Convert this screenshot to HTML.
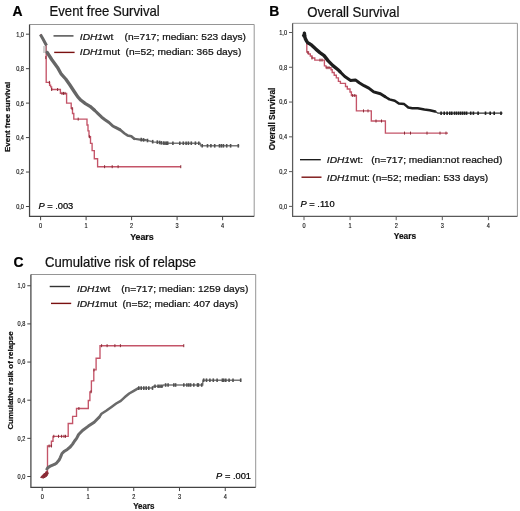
<!DOCTYPE html><html><head><meta charset="utf-8"><style>html,body{margin:0;padding:0;background:#fff;}svg{display:block;will-change:transform;}</style></head><body>
<svg width="520" height="511" viewBox="0 0 520 511">
<rect width="520" height="511" fill="#fff"/>
<text transform="translate(12.60,15.60)" font-size="13.9" font-weight="bold" fill="#000" stroke="#000" stroke-width="0.22" font-family="Liberation Sans, sans-serif">A</text>
<text transform="translate(49.50,15.70) scale(0.953,1)" font-size="13.8" fill="#111" stroke="#111" stroke-width="0.22" font-family="Liberation Sans, sans-serif">Event free Survival</text>
<polyline points="29.55,24.5 254.2,24.5 254.2,216.4" fill="none" stroke="#959595" stroke-width="1"/><polyline points="29.55,24.5 29.55,216.4 254.2,216.4" fill="none" stroke="#444" stroke-width="1.25"/><line x1="25.95" y1="34.19999999999999" x2="29.55" y2="34.19999999999999" stroke="#444" stroke-width="1"/><text transform="translate(23.95,36.60) scale(0.85,1)" text-anchor="end" font-size="6.6" fill="#111" stroke="#111" stroke-width="0.15" font-family="Liberation Sans, sans-serif">1,0</text><line x1="25.95" y1="68.66" x2="29.55" y2="68.66" stroke="#444" stroke-width="1"/><text transform="translate(23.95,71.06) scale(0.85,1)" text-anchor="end" font-size="6.6" fill="#111" stroke="#111" stroke-width="0.15" font-family="Liberation Sans, sans-serif">0,8</text><line x1="25.95" y1="103.11999999999999" x2="29.55" y2="103.11999999999999" stroke="#444" stroke-width="1"/><text transform="translate(23.95,105.52) scale(0.85,1)" text-anchor="end" font-size="6.6" fill="#111" stroke="#111" stroke-width="0.15" font-family="Liberation Sans, sans-serif">0,6</text><line x1="25.95" y1="137.57999999999998" x2="29.55" y2="137.57999999999998" stroke="#444" stroke-width="1"/><text transform="translate(23.95,139.98) scale(0.85,1)" text-anchor="end" font-size="6.6" fill="#111" stroke="#111" stroke-width="0.15" font-family="Liberation Sans, sans-serif">0,4</text><line x1="25.95" y1="172.04" x2="29.55" y2="172.04" stroke="#444" stroke-width="1"/><text transform="translate(23.95,174.44) scale(0.85,1)" text-anchor="end" font-size="6.6" fill="#111" stroke="#111" stroke-width="0.15" font-family="Liberation Sans, sans-serif">0,2</text><line x1="25.95" y1="206.5" x2="29.55" y2="206.5" stroke="#444" stroke-width="1"/><text transform="translate(23.95,208.90) scale(0.85,1)" text-anchor="end" font-size="6.6" fill="#111" stroke="#111" stroke-width="0.15" font-family="Liberation Sans, sans-serif">0,0</text><line x1="40.6" y1="216.4" x2="40.6" y2="220.20000000000002" stroke="#444" stroke-width="1"/><text transform="translate(40.60,227.90) scale(0.85,1)" text-anchor="middle" font-size="6.6" fill="#111" stroke="#111" stroke-width="0.15" font-family="Liberation Sans, sans-serif">0</text><line x1="86.1" y1="216.4" x2="86.1" y2="220.20000000000002" stroke="#444" stroke-width="1"/><text transform="translate(86.10,227.90) scale(0.85,1)" text-anchor="middle" font-size="6.6" fill="#111" stroke="#111" stroke-width="0.15" font-family="Liberation Sans, sans-serif">1</text><line x1="131.6" y1="216.4" x2="131.6" y2="220.20000000000002" stroke="#444" stroke-width="1"/><text transform="translate(131.60,227.90) scale(0.85,1)" text-anchor="middle" font-size="6.6" fill="#111" stroke="#111" stroke-width="0.15" font-family="Liberation Sans, sans-serif">2</text><line x1="177.1" y1="216.4" x2="177.1" y2="220.20000000000002" stroke="#444" stroke-width="1"/><text transform="translate(177.10,227.90) scale(0.85,1)" text-anchor="middle" font-size="6.6" fill="#111" stroke="#111" stroke-width="0.15" font-family="Liberation Sans, sans-serif">3</text><line x1="222.6" y1="216.4" x2="222.6" y2="220.20000000000002" stroke="#444" stroke-width="1"/><text transform="translate(222.60,227.90) scale(0.85,1)" text-anchor="middle" font-size="6.6" fill="#111" stroke="#111" stroke-width="0.15" font-family="Liberation Sans, sans-serif">4</text>
<text transform="translate(10.30,116.80) rotate(-90)" text-anchor="middle" font-size="7.9" font-weight="bold" fill="#111" stroke="#111" stroke-width="0.22" font-family="Liberation Sans, sans-serif">Event free survival</text>
<text transform="translate(141.90,239.90) scale(0.96,1)" text-anchor="middle" font-size="9.2" font-weight="bold" fill="#111" stroke="#111" stroke-width="0.22" font-family="Liberation Sans, sans-serif">Years</text>
<text transform="translate(38.40,208.60)" font-size="9.3" fill="#000" stroke="#000" stroke-width="0.22" font-family="Liberation Sans, sans-serif"><tspan font-style="italic">P</tspan> = .003</text>
<line x1="53.5" y1="35.9" x2="73.5" y2="35.9" stroke="#444" stroke-width="1.4"/>
<line x1="54.2" y1="52.4" x2="74.6" y2="52.4" stroke="#7a1010" stroke-width="1.4"/>
<text transform="translate(79.80,39.90) scale(1.085,1)" font-size="9.4" fill="#111" stroke="#111" stroke-width="0.22" font-family="Liberation Sans, sans-serif"><tspan font-style="italic">IDH1</tspan>wt</text>
<text transform="translate(124.50,39.90) scale(1.085,1)" font-size="9.4" fill="#111" stroke="#111" stroke-width="0.22" font-family="Liberation Sans, sans-serif">(n=717; median: 523 days)</text>
<text transform="translate(79.80,55.30) scale(1.085,1)" font-size="9.4" fill="#111" stroke="#111" stroke-width="0.22" font-family="Liberation Sans, sans-serif"><tspan font-style="italic">IDH1</tspan>mut</text>
<text transform="translate(125.50,55.30) scale(1.085,1)" font-size="9.4" fill="#111" stroke="#111" stroke-width="0.22" font-family="Liberation Sans, sans-serif">(n=52; median: 365 days)</text>
<path d="M40.40,34.40 L43.00,39.00 L46.20,46.00 V82.40 H49.60 V85.20 H50.60 V86.90 H51.60 V89.50 H60.40 V93.40 H66.60 V103.10 H71.20 V108.20 H72.50 V113.50 H73.80 V119.10 H87.00 V125.00 H88.00 V130.80 H89.00 V136.70 H90.50 V143.30 H92.10 V150.60 H94.30 V158.70 H97.60 V166.70 H180.75" fill="none" stroke="#c45468" stroke-width="1.35"/>
<line x1="45.80" y1="56.10" x2="45.80" y2="59.10" stroke="#8b2a35" stroke-width="1"/><line x1="49.40" y1="80.90" x2="49.40" y2="83.90" stroke="#8b2a35" stroke-width="1"/><line x1="51.70" y1="88.00" x2="51.70" y2="91.00" stroke="#8b2a35" stroke-width="1"/><line x1="57.60" y1="88.00" x2="57.60" y2="91.00" stroke="#8b2a35" stroke-width="1"/><line x1="62.00" y1="91.90" x2="62.00" y2="94.90" stroke="#8b2a35" stroke-width="1"/><line x1="63.50" y1="91.90" x2="63.50" y2="94.90" stroke="#8b2a35" stroke-width="1"/><line x1="65.00" y1="91.90" x2="65.00" y2="94.90" stroke="#8b2a35" stroke-width="1"/><line x1="72.10" y1="107.10" x2="72.10" y2="110.10" stroke="#8b2a35" stroke-width="1"/><line x1="78.20" y1="117.60" x2="78.20" y2="120.60" stroke="#8b2a35" stroke-width="1"/><line x1="89.60" y1="135.20" x2="89.60" y2="138.20" stroke="#8b2a35" stroke-width="1"/><line x1="104.60" y1="165.20" x2="104.60" y2="168.20" stroke="#8b2a35" stroke-width="1"/><line x1="112.20" y1="165.20" x2="112.20" y2="168.20" stroke="#8b2a35" stroke-width="1"/><line x1="118.10" y1="165.20" x2="118.10" y2="168.20" stroke="#8b2a35" stroke-width="1"/><line x1="180.75" y1="165.20" x2="180.75" y2="168.20" stroke="#8b2a35" stroke-width="1"/>
<polyline points="40.40,34.40 43.00,39.00 46.50,45.50" fill="none" stroke="#666" stroke-width="3" stroke-linejoin="round"/>
<line x1="44" y1="46" x2="44" y2="53" stroke="#888" stroke-width="0.8"/><line x1="46" y1="46" x2="46" y2="53" stroke="#888" stroke-width="0.8"/>
<polyline points="47.20,52.50 51.70,59.50 57.50,67.40 61.30,74.20 65.70,79.00 69.60,84.50 74.50,92.00 77.80,96.90 81.00,100.30 85.40,103.60 90.00,106.30 94.30,110.00" fill="none" stroke="#666" stroke-width="3.3" stroke-linejoin="round" stroke-linecap="round"/><polyline points="94.30,110.00 98.00,113.60 101.70,117.20 105.00,119.70 109.00,122.50 112.80,126.00 115.00,127.20 119.80,129.60" fill="none" stroke="#666" stroke-width="3.0" stroke-linejoin="round" stroke-linecap="round"/><polyline points="119.80,129.60 124.60,133.50 127.50,135.40 131.30,136.30 134.20,138.75" fill="none" stroke="#666" stroke-width="2.6" stroke-linejoin="round" stroke-linecap="round"/><polyline points="134.20,138.75 140.00,139.70 145.80,140.20" fill="none" stroke="#666" stroke-width="2.2" stroke-linejoin="round" stroke-linecap="round"/>
<polyline points="145.80,140.20 149.60,140.90 153.50,141.90 158.30,142.20 161.50,142.90 165.00,143.20 200.30,143.20 200.60,145.80 239.20,145.80" fill="none" stroke="#777" stroke-width="1.5" stroke-linejoin="round"/>
<line x1="141.20" y1="137.80" x2="141.20" y2="141.40" stroke="#505050" stroke-width="1.6"/><line x1="143.50" y1="138.10" x2="143.50" y2="141.70" stroke="#505050" stroke-width="1.6"/><line x1="147.50" y1="138.71" x2="147.50" y2="142.31" stroke="#505050" stroke-width="1.6"/><line x1="152.70" y1="139.89" x2="152.70" y2="143.49" stroke="#505050" stroke-width="1.6"/><line x1="157.30" y1="140.34" x2="157.30" y2="143.94" stroke="#505050" stroke-width="1.6"/><line x1="159.60" y1="140.68" x2="159.60" y2="144.28" stroke="#505050" stroke-width="1.6"/><line x1="161.30" y1="141.06" x2="161.30" y2="144.66" stroke="#505050" stroke-width="1.6"/><line x1="163.50" y1="141.27" x2="163.50" y2="144.87" stroke="#505050" stroke-width="1.6"/><line x1="165.00" y1="141.40" x2="165.00" y2="145.00" stroke="#505050" stroke-width="1.6"/><line x1="166.50" y1="141.40" x2="166.50" y2="145.00" stroke="#505050" stroke-width="1.6"/><line x1="167.70" y1="141.40" x2="167.70" y2="145.00" stroke="#505050" stroke-width="1.6"/><line x1="172.90" y1="141.40" x2="172.90" y2="145.00" stroke="#505050" stroke-width="1.6"/><line x1="179.80" y1="141.40" x2="179.80" y2="145.00" stroke="#505050" stroke-width="1.6"/><line x1="183.30" y1="141.40" x2="183.30" y2="145.00" stroke="#505050" stroke-width="1.6"/><line x1="186.10" y1="141.40" x2="186.10" y2="145.00" stroke="#505050" stroke-width="1.6"/><line x1="188.40" y1="141.40" x2="188.40" y2="145.00" stroke="#505050" stroke-width="1.6"/><line x1="191.30" y1="141.40" x2="191.30" y2="145.00" stroke="#505050" stroke-width="1.6"/><line x1="195.40" y1="141.40" x2="195.40" y2="145.00" stroke="#505050" stroke-width="1.6"/><line x1="198.80" y1="141.40" x2="198.80" y2="145.00" stroke="#505050" stroke-width="1.6"/><line x1="202.20" y1="144.00" x2="202.20" y2="147.60" stroke="#505050" stroke-width="1.6"/><line x1="207.50" y1="144.00" x2="207.50" y2="147.60" stroke="#505050" stroke-width="1.6"/><line x1="210.90" y1="144.00" x2="210.90" y2="147.60" stroke="#505050" stroke-width="1.6"/><line x1="214.70" y1="144.00" x2="214.70" y2="147.60" stroke="#505050" stroke-width="1.6"/><line x1="219.50" y1="144.00" x2="219.50" y2="147.60" stroke="#505050" stroke-width="1.6"/><line x1="221.40" y1="144.00" x2="221.40" y2="147.60" stroke="#505050" stroke-width="1.6"/><line x1="223.40" y1="144.00" x2="223.40" y2="147.60" stroke="#505050" stroke-width="1.6"/><line x1="226.70" y1="144.00" x2="226.70" y2="147.60" stroke="#505050" stroke-width="1.6"/><line x1="230.60" y1="144.00" x2="230.60" y2="147.60" stroke="#505050" stroke-width="1.6"/><line x1="238.30" y1="144.00" x2="238.30" y2="147.60" stroke="#505050" stroke-width="1.6"/>
<text transform="translate(269.20,16.30)" font-size="13.9" font-weight="bold" fill="#000" stroke="#000" stroke-width="0.22" font-family="Liberation Sans, sans-serif">B</text>
<text transform="translate(307.30,16.80) scale(0.953,1)" font-size="13.8" fill="#111" stroke="#111" stroke-width="0.22" font-family="Liberation Sans, sans-serif">Overall Survival</text>
<polyline points="292.6,23.3 517.4,23.3 517.4,216.35" fill="none" stroke="#959595" stroke-width="1"/><polyline points="292.6,23.3 292.6,216.35 517.4,216.35" fill="none" stroke="#5a5a5a" stroke-width="1.25"/><line x1="289.0" y1="32.5" x2="292.6" y2="32.5" stroke="#5a5a5a" stroke-width="1"/><text transform="translate(287.00,34.90) scale(0.85,1)" text-anchor="end" font-size="6.6" fill="#111" stroke="#111" stroke-width="0.15" font-family="Liberation Sans, sans-serif">1,0</text><line x1="289.0" y1="67.28" x2="292.6" y2="67.28" stroke="#5a5a5a" stroke-width="1"/><text transform="translate(287.00,69.68) scale(0.85,1)" text-anchor="end" font-size="6.6" fill="#111" stroke="#111" stroke-width="0.15" font-family="Liberation Sans, sans-serif">0,8</text><line x1="289.0" y1="102.06" x2="292.6" y2="102.06" stroke="#5a5a5a" stroke-width="1"/><text transform="translate(287.00,104.46) scale(0.85,1)" text-anchor="end" font-size="6.6" fill="#111" stroke="#111" stroke-width="0.15" font-family="Liberation Sans, sans-serif">0,6</text><line x1="289.0" y1="136.84" x2="292.6" y2="136.84" stroke="#5a5a5a" stroke-width="1"/><text transform="translate(287.00,139.24) scale(0.85,1)" text-anchor="end" font-size="6.6" fill="#111" stroke="#111" stroke-width="0.15" font-family="Liberation Sans, sans-serif">0,4</text><line x1="289.0" y1="171.62" x2="292.6" y2="171.62" stroke="#5a5a5a" stroke-width="1"/><text transform="translate(287.00,174.02) scale(0.85,1)" text-anchor="end" font-size="6.6" fill="#111" stroke="#111" stroke-width="0.15" font-family="Liberation Sans, sans-serif">0,2</text><line x1="289.0" y1="206.4" x2="292.6" y2="206.4" stroke="#5a5a5a" stroke-width="1"/><text transform="translate(287.00,208.80) scale(0.85,1)" text-anchor="end" font-size="6.6" fill="#111" stroke="#111" stroke-width="0.15" font-family="Liberation Sans, sans-serif">0,0</text><line x1="304.0" y1="216.35" x2="304.0" y2="220.15" stroke="#5a5a5a" stroke-width="1"/><text transform="translate(304.00,227.85) scale(0.85,1)" text-anchor="middle" font-size="6.6" fill="#111" stroke="#111" stroke-width="0.15" font-family="Liberation Sans, sans-serif">0</text><line x1="350.1" y1="216.35" x2="350.1" y2="220.15" stroke="#5a5a5a" stroke-width="1"/><text transform="translate(350.10,227.85) scale(0.85,1)" text-anchor="middle" font-size="6.6" fill="#111" stroke="#111" stroke-width="0.15" font-family="Liberation Sans, sans-serif">1</text><line x1="396.2" y1="216.35" x2="396.2" y2="220.15" stroke="#5a5a5a" stroke-width="1"/><text transform="translate(396.20,227.85) scale(0.85,1)" text-anchor="middle" font-size="6.6" fill="#111" stroke="#111" stroke-width="0.15" font-family="Liberation Sans, sans-serif">2</text><line x1="442.3" y1="216.35" x2="442.3" y2="220.15" stroke="#5a5a5a" stroke-width="1"/><text transform="translate(442.30,227.85) scale(0.85,1)" text-anchor="middle" font-size="6.6" fill="#111" stroke="#111" stroke-width="0.15" font-family="Liberation Sans, sans-serif">3</text><line x1="488.4" y1="216.35" x2="488.4" y2="220.15" stroke="#5a5a5a" stroke-width="1"/><text transform="translate(488.40,227.85) scale(0.85,1)" text-anchor="middle" font-size="6.6" fill="#111" stroke="#111" stroke-width="0.15" font-family="Liberation Sans, sans-serif">4</text>
<text transform="translate(274.90,119.00) rotate(-90)" text-anchor="middle" font-size="8.3" font-weight="bold" fill="#111" stroke="#111" stroke-width="0.22" font-family="Liberation Sans, sans-serif">Overall Survival</text>
<text transform="translate(404.90,239.00) scale(0.96,1)" text-anchor="middle" font-size="8.7" font-weight="bold" fill="#111" stroke="#111" stroke-width="0.22" font-family="Liberation Sans, sans-serif">Years</text>
<text transform="translate(300.50,207.00)" font-size="9.3" fill="#000" stroke="#000" stroke-width="0.22" font-family="Liberation Sans, sans-serif"><tspan font-style="italic">P</tspan> = .110</text>
<line x1="300" y1="159.7" x2="320.8" y2="159.7" stroke="#111" stroke-width="1.3"/>
<line x1="301.5" y1="177.2" x2="321.5" y2="177.2" stroke="#7a1010" stroke-width="1.4"/>
<text transform="translate(326.80,163.30) scale(1.085,1)" font-size="9.4" fill="#111" stroke="#111" stroke-width="0.22" font-family="Liberation Sans, sans-serif"><tspan font-style="italic">IDH1</tspan>wt:</text>
<text transform="translate(371.20,163.30) scale(1.085,1)" font-size="9.4" fill="#111" stroke="#111" stroke-width="0.22" font-family="Liberation Sans, sans-serif">(n=717; median:not reached)</text>
<text transform="translate(326.80,180.80) scale(1.085,1)" font-size="9.4" fill="#111" stroke="#111" stroke-width="0.22" font-family="Liberation Sans, sans-serif"><tspan font-style="italic">IDH1</tspan>mut:</text>
<text transform="translate(372.30,180.80) scale(1.085,1)" font-size="9.4" fill="#111" stroke="#111" stroke-width="0.22" font-family="Liberation Sans, sans-serif">(n=52; median: 533 days)</text>
<path d="M304.10,33.30 L306.80,41.60 V52.00 H308.50 V54.00 H310.30 V56.00 H312.00 V58.00 H314.80 V60.10 H324.40 V65.90 H326.00 V67.70 H331.00 V69.70 H332.20 V72.50 H334.20 V75.20 H336.30 V77.90 H338.40 V81.40 H340.40 V83.40 H345.50 V86.50 H347.30 V89.00 H350.00 V92.00 H351.40 V95.50 H356.40 V110.90 H371.30 V121.00 H385.40 V133.10 H448.00" fill="none" stroke="#c45468" stroke-width="1.35"/>
<line x1="307.90" y1="51.10" x2="307.90" y2="54.10" stroke="#8b2a35" stroke-width="1"/><line x1="312.00" y1="56.50" x2="312.00" y2="59.50" stroke="#8b2a35" stroke-width="1"/><line x1="320.00" y1="58.60" x2="320.00" y2="61.60" stroke="#8b2a35" stroke-width="1"/><line x1="322.00" y1="58.60" x2="322.00" y2="61.60" stroke="#8b2a35" stroke-width="1"/><line x1="327.00" y1="66.20" x2="327.00" y2="69.20" stroke="#8b2a35" stroke-width="1"/><line x1="329.00" y1="66.20" x2="329.00" y2="69.20" stroke="#8b2a35" stroke-width="1"/><line x1="352.70" y1="94.00" x2="352.70" y2="97.00" stroke="#8b2a35" stroke-width="1"/><line x1="354.80" y1="94.00" x2="354.80" y2="97.00" stroke="#8b2a35" stroke-width="1"/><line x1="363.50" y1="109.40" x2="363.50" y2="112.40" stroke="#8b2a35" stroke-width="1"/><line x1="368.00" y1="109.40" x2="368.00" y2="112.40" stroke="#8b2a35" stroke-width="1"/><line x1="376.00" y1="119.50" x2="376.00" y2="122.50" stroke="#8b2a35" stroke-width="1"/><line x1="381.50" y1="119.50" x2="381.50" y2="122.50" stroke="#8b2a35" stroke-width="1"/><line x1="404.50" y1="131.60" x2="404.50" y2="134.60" stroke="#8b2a35" stroke-width="1"/><line x1="410.50" y1="131.60" x2="410.50" y2="134.60" stroke="#8b2a35" stroke-width="1"/><line x1="427.00" y1="131.60" x2="427.00" y2="134.60" stroke="#8b2a35" stroke-width="1"/><line x1="440.00" y1="131.60" x2="440.00" y2="134.60" stroke="#8b2a35" stroke-width="1"/><line x1="446.00" y1="131.60" x2="446.00" y2="134.60" stroke="#8b2a35" stroke-width="1"/>
<polyline points="304.40,33.20 304.70,36.20 305.30,38.60 306.50,40.90 307.60,42.70 309.70,43.80 311.70,45.20 315.80,49.10 319.90,52.60 324.10,55.60 328.20,60.90 332.90,65.60 338.70,70.30 340.00,71.70" fill="none" stroke="#1e1e1e" stroke-width="3.4" stroke-linejoin="round" stroke-linecap="round"/><polyline points="340.00,71.70 344.80,76.50 350.60,80.40 355.40,79.90 359.20,82.80 364.00,85.70 368.80,88.10 373.70,91.90 380.40,93.80 385.20,96.70" fill="none" stroke="#1e1e1e" stroke-width="3.0" stroke-linejoin="round" stroke-linecap="round"/><polyline points="385.20,96.70 389.40,99.40 394.80,100.80 398.80,103.50 404.20,104.10 408.30,107.50 412.30,108.20 417.70,108.20 424.40,109.50 429.80,110.20 435.20,111.50" fill="none" stroke="#1e1e1e" stroke-width="2.5" stroke-linejoin="round" stroke-linecap="round"/>
<polygon points="301.8,35.6 304.4,31.6 306.4,35.8 305,37.5 303,37.5" fill="#1e1e1e"/>
<polyline points="435.20,111.50 437.90,113.20 502.50,113.20" fill="none" stroke="#333" stroke-width="1.3"/>
<line x1="441.10" y1="111.50" x2="441.10" y2="114.90" stroke="#1e1e1e" stroke-width="1.6"/><line x1="444.20" y1="111.50" x2="444.20" y2="114.90" stroke="#1e1e1e" stroke-width="1.6"/><line x1="447.10" y1="111.50" x2="447.10" y2="114.90" stroke="#1e1e1e" stroke-width="1.6"/><line x1="449.80" y1="111.50" x2="449.80" y2="114.90" stroke="#1e1e1e" stroke-width="1.6"/><line x1="451.80" y1="111.50" x2="451.80" y2="114.90" stroke="#1e1e1e" stroke-width="1.6"/><line x1="454.50" y1="111.50" x2="454.50" y2="114.90" stroke="#1e1e1e" stroke-width="1.6"/><line x1="456.50" y1="111.50" x2="456.50" y2="114.90" stroke="#1e1e1e" stroke-width="1.6"/><line x1="458.60" y1="111.50" x2="458.60" y2="114.90" stroke="#1e1e1e" stroke-width="1.6"/><line x1="460.60" y1="111.50" x2="460.60" y2="114.90" stroke="#1e1e1e" stroke-width="1.6"/><line x1="462.60" y1="111.50" x2="462.60" y2="114.90" stroke="#1e1e1e" stroke-width="1.6"/><line x1="464.60" y1="111.50" x2="464.60" y2="114.90" stroke="#1e1e1e" stroke-width="1.6"/><line x1="466.60" y1="111.50" x2="466.60" y2="114.90" stroke="#1e1e1e" stroke-width="1.6"/><line x1="470.70" y1="111.50" x2="470.70" y2="114.90" stroke="#1e1e1e" stroke-width="1.6"/><line x1="473.40" y1="111.50" x2="473.40" y2="114.90" stroke="#1e1e1e" stroke-width="1.6"/><line x1="478.10" y1="111.50" x2="478.10" y2="114.90" stroke="#1e1e1e" stroke-width="1.6"/><line x1="485.50" y1="111.50" x2="485.50" y2="114.90" stroke="#1e1e1e" stroke-width="1.6"/><line x1="490.20" y1="111.50" x2="490.20" y2="114.90" stroke="#1e1e1e" stroke-width="1.6"/><line x1="494.20" y1="111.50" x2="494.20" y2="114.90" stroke="#1e1e1e" stroke-width="1.6"/><line x1="501.00" y1="111.50" x2="501.00" y2="114.90" stroke="#1e1e1e" stroke-width="1.6"/>
<text transform="translate(13.60,266.90)" font-size="13.9" font-weight="bold" fill="#000" stroke="#000" stroke-width="0.22" font-family="Liberation Sans, sans-serif">C</text>
<text transform="translate(45.00,266.80) scale(0.953,1)" font-size="13.8" fill="#111" stroke="#111" stroke-width="0.22" font-family="Liberation Sans, sans-serif">Cumulative risk of relapse</text>
<polyline points="30.9,274.5 255.7,274.5 255.7,487.25" fill="none" stroke="#959595" stroke-width="1"/><polyline points="30.9,274.5 30.9,487.25 255.7,487.25" fill="none" stroke="#444" stroke-width="1.25"/><line x1="27.299999999999997" y1="285.75" x2="30.9" y2="285.75" stroke="#444" stroke-width="1"/><text transform="translate(25.30,288.15) scale(0.85,1)" text-anchor="end" font-size="6.6" fill="#111" stroke="#111" stroke-width="0.15" font-family="Liberation Sans, sans-serif">1,0</text><line x1="27.299999999999997" y1="323.9" x2="30.9" y2="323.9" stroke="#444" stroke-width="1"/><text transform="translate(25.30,326.30) scale(0.85,1)" text-anchor="end" font-size="6.6" fill="#111" stroke="#111" stroke-width="0.15" font-family="Liberation Sans, sans-serif">0,8</text><line x1="27.299999999999997" y1="362.05" x2="30.9" y2="362.05" stroke="#444" stroke-width="1"/><text transform="translate(25.30,364.45) scale(0.85,1)" text-anchor="end" font-size="6.6" fill="#111" stroke="#111" stroke-width="0.15" font-family="Liberation Sans, sans-serif">0,6</text><line x1="27.299999999999997" y1="400.2" x2="30.9" y2="400.2" stroke="#444" stroke-width="1"/><text transform="translate(25.30,402.60) scale(0.85,1)" text-anchor="end" font-size="6.6" fill="#111" stroke="#111" stroke-width="0.15" font-family="Liberation Sans, sans-serif">0,4</text><line x1="27.299999999999997" y1="438.35" x2="30.9" y2="438.35" stroke="#444" stroke-width="1"/><text transform="translate(25.30,440.75) scale(0.85,1)" text-anchor="end" font-size="6.6" fill="#111" stroke="#111" stroke-width="0.15" font-family="Liberation Sans, sans-serif">0,2</text><line x1="27.299999999999997" y1="476.5" x2="30.9" y2="476.5" stroke="#444" stroke-width="1"/><text transform="translate(25.30,478.90) scale(0.85,1)" text-anchor="end" font-size="6.6" fill="#111" stroke="#111" stroke-width="0.15" font-family="Liberation Sans, sans-serif">0,0</text><line x1="42.2" y1="487.25" x2="42.2" y2="491.05" stroke="#444" stroke-width="1"/><text transform="translate(42.20,498.75) scale(0.85,1)" text-anchor="middle" font-size="6.6" fill="#111" stroke="#111" stroke-width="0.15" font-family="Liberation Sans, sans-serif">0</text><line x1="87.96000000000001" y1="487.25" x2="87.96000000000001" y2="491.05" stroke="#444" stroke-width="1"/><text transform="translate(87.96,498.75) scale(0.85,1)" text-anchor="middle" font-size="6.6" fill="#111" stroke="#111" stroke-width="0.15" font-family="Liberation Sans, sans-serif">1</text><line x1="133.72" y1="487.25" x2="133.72" y2="491.05" stroke="#444" stroke-width="1"/><text transform="translate(133.72,498.75) scale(0.85,1)" text-anchor="middle" font-size="6.6" fill="#111" stroke="#111" stroke-width="0.15" font-family="Liberation Sans, sans-serif">2</text><line x1="179.48000000000002" y1="487.25" x2="179.48000000000002" y2="491.05" stroke="#444" stroke-width="1"/><text transform="translate(179.48,498.75) scale(0.85,1)" text-anchor="middle" font-size="6.6" fill="#111" stroke="#111" stroke-width="0.15" font-family="Liberation Sans, sans-serif">3</text><line x1="225.24" y1="487.25" x2="225.24" y2="491.05" stroke="#444" stroke-width="1"/><text transform="translate(225.24,498.75) scale(0.85,1)" text-anchor="middle" font-size="6.6" fill="#111" stroke="#111" stroke-width="0.15" font-family="Liberation Sans, sans-serif">4</text>
<text transform="translate(13.30,380.50) rotate(-90)" text-anchor="middle" font-size="7.9" font-weight="bold" fill="#111" stroke="#111" stroke-width="0.22" font-family="Liberation Sans, sans-serif">Cumulative rsik of relapse</text>
<text transform="translate(143.85,509.40) scale(0.96,1)" text-anchor="middle" font-size="8.3" font-weight="bold" fill="#111" stroke="#111" stroke-width="0.22" font-family="Liberation Sans, sans-serif">Years</text>
<text transform="translate(251.00,478.60)" text-anchor="end" font-size="9.3" fill="#000" stroke="#000" stroke-width="0.22" font-family="Liberation Sans, sans-serif"><tspan font-style="italic">P</tspan> = .001</text>
<line x1="49.7" y1="286.5" x2="70" y2="286.5" stroke="#333" stroke-width="1.4"/>
<line x1="51" y1="303.4" x2="71.2" y2="303.4" stroke="#7a1010" stroke-width="1.4"/>
<text transform="translate(76.90,291.80) scale(1.085,1)" font-size="9.4" fill="#111" stroke="#111" stroke-width="0.22" font-family="Liberation Sans, sans-serif"><tspan font-style="italic">IDH1</tspan>wt</text>
<text transform="translate(121.20,291.80) scale(1.085,1)" font-size="9.4" fill="#111" stroke="#111" stroke-width="0.22" font-family="Liberation Sans, sans-serif">(n=717; median: 1259 days)</text>
<text transform="translate(76.90,307.20) scale(1.085,1)" font-size="9.4" fill="#111" stroke="#111" stroke-width="0.22" font-family="Liberation Sans, sans-serif"><tspan font-style="italic">IDH1</tspan>mut</text>
<text transform="translate(122.40,307.20) scale(1.085,1)" font-size="9.4" fill="#111" stroke="#111" stroke-width="0.22" font-family="Liberation Sans, sans-serif">(n=52; median: 407 days)</text>
<path d="M41.90,476.50 H44.50 V474.50 H46.00 V472.00 H47.50 V446.00 H51.40 V441.20 H53.00 V436.30 H68.20 V423.50 H72.60 V416.40 H76.50 V408.50 H88.30 V400.50 H89.90 V391.80 H91.40 V380.90 H93.80 V369.90 H96.10 V358.20 H100.00 V345.70 H183.75" fill="none" stroke="#c45468" stroke-width="1.35"/>
<path d="M40.6,477.4 L43,474.6 L45.6,472.6 L47.2,471.4 L48.3,473.2 L46.8,476.2 L43.5,478.1 Z" fill="#8b2a35" stroke="#8b2a35" stroke-width="1"/>
<line x1="49.10" y1="444.50" x2="49.10" y2="447.50" stroke="#8b2a35" stroke-width="1"/><line x1="51.40" y1="444.50" x2="51.40" y2="447.50" stroke="#8b2a35" stroke-width="1"/><line x1="53.80" y1="434.80" x2="53.80" y2="437.80" stroke="#8b2a35" stroke-width="1"/><line x1="58.50" y1="434.80" x2="58.50" y2="437.80" stroke="#8b2a35" stroke-width="1"/><line x1="61.60" y1="434.80" x2="61.60" y2="437.80" stroke="#8b2a35" stroke-width="1"/><line x1="64.00" y1="434.80" x2="64.00" y2="437.80" stroke="#8b2a35" stroke-width="1"/><line x1="65.50" y1="434.80" x2="65.50" y2="437.80" stroke="#8b2a35" stroke-width="1"/><line x1="78.90" y1="407.00" x2="78.90" y2="410.00" stroke="#8b2a35" stroke-width="1"/><line x1="91.00" y1="390.30" x2="91.00" y2="393.30" stroke="#8b2a35" stroke-width="1"/><line x1="94.00" y1="368.40" x2="94.00" y2="371.40" stroke="#8b2a35" stroke-width="1"/><line x1="101.60" y1="344.20" x2="101.60" y2="347.20" stroke="#8b2a35" stroke-width="1"/><line x1="107.10" y1="344.20" x2="107.10" y2="347.20" stroke="#8b2a35" stroke-width="1"/><line x1="114.90" y1="344.20" x2="114.90" y2="347.20" stroke="#8b2a35" stroke-width="1"/><line x1="120.40" y1="344.20" x2="120.40" y2="347.20" stroke="#8b2a35" stroke-width="1"/><line x1="183.75" y1="344.20" x2="183.75" y2="347.20" stroke="#8b2a35" stroke-width="1"/>
<polyline points="46.90,469.00 47.90,467.60 50.90,465.80 54.40,464.40 56.70,462.90 59.10,460.00 60.30,457.60 62.00,453.50 64.40,451.20 67.30,449.40 70.20,447.00 72.60,444.10 74.40,441.20 76.60,438.40 78.60,434.50 82.50,430.50 88.40,426.10 94.20,422.20 99.10,417.30" fill="none" stroke="#6a6a6a" stroke-width="3.0" stroke-linejoin="round" stroke-linecap="round"/><polyline points="99.10,417.30 101.50,413.80 106.20,410.80 111.50,406.90 116.20,403.50 120.80,400.80 124.60,397.30 129.20,393.50 133.80,390.80 138.40,388.10" fill="none" stroke="#6a6a6a" stroke-width="2.5" stroke-linejoin="round" stroke-linecap="round"/>
<polyline points="138.40,388.10 152.50,388.10 153.50,386.30 162.50,386.30 163.50,385.00 202.70,385.00 202.90,380.20 241.20,380.20" fill="none" stroke="#777" stroke-width="1.5"/>
<line x1="138.80" y1="386.30" x2="138.80" y2="389.90" stroke="#505050" stroke-width="1.6"/><line x1="141.20" y1="386.30" x2="141.20" y2="389.90" stroke="#505050" stroke-width="1.6"/><line x1="143.80" y1="386.30" x2="143.80" y2="389.90" stroke="#505050" stroke-width="1.6"/><line x1="146.20" y1="386.30" x2="146.20" y2="389.90" stroke="#505050" stroke-width="1.6"/><line x1="148.80" y1="386.30" x2="148.80" y2="389.90" stroke="#505050" stroke-width="1.6"/><line x1="152.50" y1="386.30" x2="152.50" y2="389.90" stroke="#505050" stroke-width="1.6"/><line x1="155.00" y1="384.50" x2="155.00" y2="388.10" stroke="#505050" stroke-width="1.6"/><line x1="158.10" y1="384.50" x2="158.10" y2="388.10" stroke="#505050" stroke-width="1.6"/><line x1="160.00" y1="384.50" x2="160.00" y2="388.10" stroke="#505050" stroke-width="1.6"/><line x1="161.90" y1="384.50" x2="161.90" y2="388.10" stroke="#505050" stroke-width="1.6"/><line x1="165.60" y1="383.20" x2="165.60" y2="386.80" stroke="#505050" stroke-width="1.6"/><line x1="168.10" y1="383.20" x2="168.10" y2="386.80" stroke="#505050" stroke-width="1.6"/><line x1="173.80" y1="383.20" x2="173.80" y2="386.80" stroke="#505050" stroke-width="1.6"/><line x1="175.60" y1="383.20" x2="175.60" y2="386.80" stroke="#505050" stroke-width="1.6"/><line x1="183.80" y1="383.20" x2="183.80" y2="386.80" stroke="#505050" stroke-width="1.6"/><line x1="186.90" y1="383.20" x2="186.90" y2="386.80" stroke="#505050" stroke-width="1.6"/><line x1="188.80" y1="383.20" x2="188.80" y2="386.80" stroke="#505050" stroke-width="1.6"/><line x1="190.60" y1="383.20" x2="190.60" y2="386.80" stroke="#505050" stroke-width="1.6"/><line x1="193.80" y1="383.20" x2="193.80" y2="386.80" stroke="#505050" stroke-width="1.6"/><line x1="197.50" y1="383.20" x2="197.50" y2="386.80" stroke="#505050" stroke-width="1.6"/><line x1="198.40" y1="383.20" x2="198.40" y2="386.80" stroke="#505050" stroke-width="1.6"/><line x1="201.70" y1="383.20" x2="201.70" y2="386.80" stroke="#505050" stroke-width="1.6"/><line x1="203.70" y1="378.40" x2="203.70" y2="382.00" stroke="#505050" stroke-width="1.6"/><line x1="206.50" y1="378.40" x2="206.50" y2="382.00" stroke="#505050" stroke-width="1.6"/><line x1="209.90" y1="378.40" x2="209.90" y2="382.00" stroke="#505050" stroke-width="1.6"/><line x1="213.30" y1="378.40" x2="213.30" y2="382.00" stroke="#505050" stroke-width="1.6"/><line x1="217.10" y1="378.40" x2="217.10" y2="382.00" stroke="#505050" stroke-width="1.6"/><line x1="222.40" y1="378.40" x2="222.40" y2="382.00" stroke="#505050" stroke-width="1.6"/><line x1="223.80" y1="378.40" x2="223.80" y2="382.00" stroke="#505050" stroke-width="1.6"/><line x1="225.80" y1="378.40" x2="225.80" y2="382.00" stroke="#505050" stroke-width="1.6"/><line x1="229.10" y1="378.40" x2="229.10" y2="382.00" stroke="#505050" stroke-width="1.6"/><line x1="233.00" y1="378.40" x2="233.00" y2="382.00" stroke="#505050" stroke-width="1.6"/><line x1="240.70" y1="378.40" x2="240.70" y2="382.00" stroke="#505050" stroke-width="1.6"/>
</svg></body></html>
